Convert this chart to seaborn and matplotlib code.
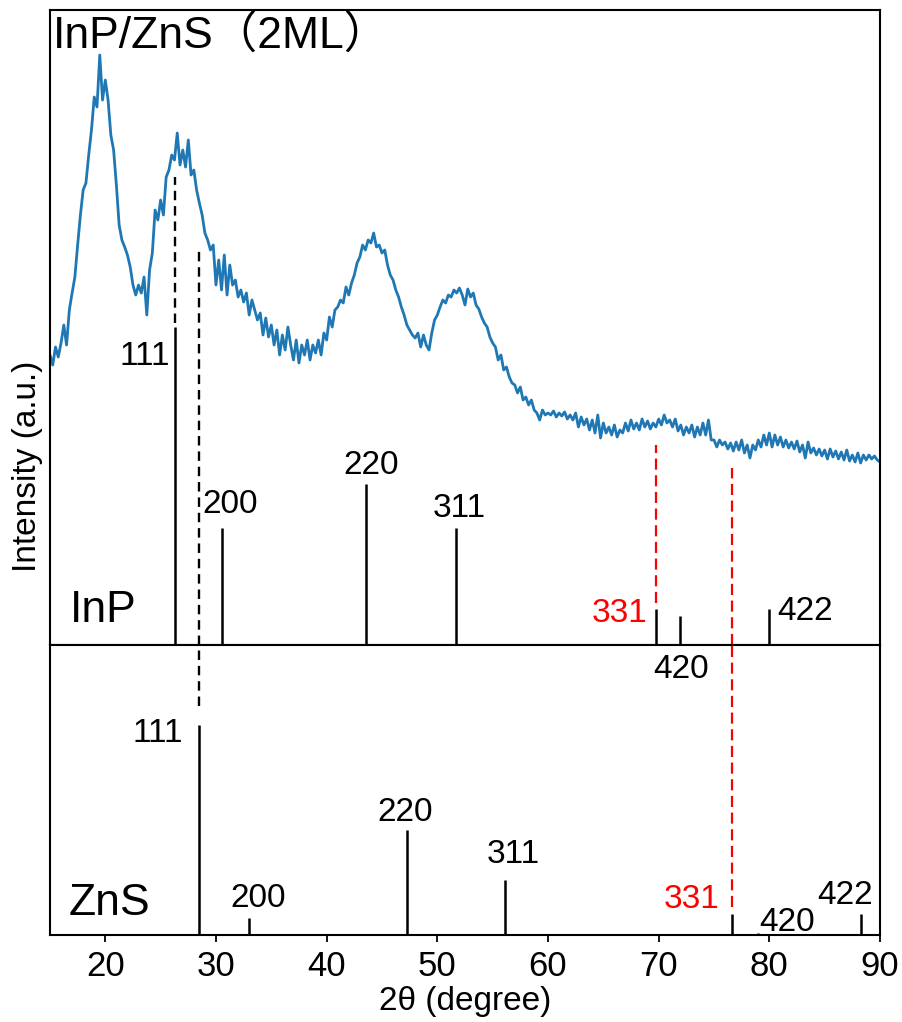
import numpy as np
import pandas as pd
import matplotlib
matplotlib.use("Agg")
import matplotlib.pyplot as plt
import seaborn as sns

# ---------------- data ----------------
# XRD pattern of InP/ZnS (2ML), 2theta from 15 to 90 deg, step 0.25 deg, intensity in a.u.
two_theta = np.linspace(15.0, 90.0, 301)
intensity = [
    290, 280, 298, 288,   302, 320, 300, 335,   352, 368, 400, 430,   455, 462, 490, 515,
    548, 538, 590, 545,   565, 545, 510, 495,   460, 420, 405, 398,   390, 378, 360, 350,
    360, 352, 368, 330,   375, 392, 435, 425,   445, 430, 468, 475,   490, 485, 512, 480,
    495, 478, 505, 470,   475, 455, 442, 430,   412, 405, 395, 400,   360, 385, 355, 390,
    350, 380, 360, 365,   348, 355, 343, 352,   330, 345, 335, 325,   332, 310, 327, 308,
    320, 300, 315, 290,   310, 295, 318, 300,   285, 305, 282, 300,   290, 305, 285, 300,
    292, 305, 290, 312,   305, 328, 318, 335,   338, 345, 342, 358,   350, 362, 370, 382,
    388, 400, 395, 405,   402, 412, 398, 400,   392, 395, 380, 370,   365, 355, 348, 338,
    330, 320, 315, 310,   307, 312, 298, 310,   300, 295, 312, 325,   330, 338, 345, 342,
    350, 348, 355, 352,   357, 350, 340, 356,   348, 352, 340, 336,   328, 322, 318, 308,
    302, 298, 285, 290,   275, 278, 268, 262,   260, 252, 258, 245,   248, 240, 245, 235,
    232, 225, 235, 230,   232, 230, 234, 228,   232, 229, 233, 226,   230, 225, 232, 218,
    228, 220, 226, 215,   225, 212, 230, 207,   222, 212, 218, 210,   220, 208, 215, 212,
    222, 214, 225, 216,   222, 215, 226, 218,   224, 216, 222, 218,   226, 220, 230, 222,
    225, 218, 226, 214,   220, 210, 218, 212,   220, 208, 218, 210,   222, 210, 225, 205,
    205, 198, 205, 200,   203, 196, 202, 194,   203, 195, 205, 192,   200, 187, 200, 195,
    205, 198, 210, 200,   212, 198, 210, 200,   208, 198, 205, 197,   203, 196, 204, 193,
    200, 187, 203, 192,   197, 190, 196, 189,   195, 186, 196, 188,   194, 186, 193, 185,
    195, 184, 190, 183,   192, 182, 190, 185,   190, 186, 189, 185,
    183,
]

# reference stick patterns
inp_hkl = ["111", "200", "220", "311", "331", "420", "422"]
inp_pos = [26.3, 30.5, 43.6, 51.7, 69.8, 71.9, 80.0]
inp_int = [318, 117, 161, 117, 36, 29, 36]

zns_hkl = ["111", "200", "220", "311", "331", "420", "422"]
zns_pos = [28.5, 33.0, 47.3, 56.1, 76.6, 79.0, 88.3]
zns_int = [210, 17, 105, 55, 21, 2, 21]

x_ticks = [20, 30, 40, 50, 60, 70, 80, 90]

df = pd.DataFrame({"two_theta": two_theta, "intensity": intensity})

# ---------------- style ----------------
sns.set_theme(style="ticks")
plt.rcParams["font.family"] = ["Liberation Sans", "Noto Sans CJK JP", "DejaVu Sans"]
plt.rcParams["axes.linewidth"] = 1.5
plt.rcParams["text.color"] = "black"
plt.rcParams["axes.labelcolor"] = "black"
plt.rcParams["xtick.color"] = "black"
plt.rcParams["ytick.color"] = "black"
plt.rcParams["axes.edgecolor"] = "black"

fig = plt.figure(figsize=(9.02, 10.22), dpi=100)
ax1 = fig.add_axes([0.0554, 0.3689, 0.9202, 0.6213])
ax2 = fig.add_axes([0.0554, 0.0851, 0.9202, 0.2838], sharex=ax1)

# ---------------- top panel ----------------
sns.lineplot(data=df, x="two_theta", y="intensity", ax=ax1,
             color="#1f77b4", linewidth=2.0)
ax1.vlines(inp_pos, 0, inp_int, colors="black", linewidth=1.8)

# guide lines
bdash = (0, (4, 2.5))
rdash = (0, (5, 2.5))
ax1.vlines(26.3, 322, 468, colors="black", linewidth=1.7, linestyles=bdash)
ax1.vlines(28.5, 0, 397, colors="black", linewidth=1.7, linestyles=bdash)
ax1.vlines(69.8, 42, 200, colors="red", linewidth=1.6, linestyles=rdash)
ax1.vlines(76.6, 0, 177, colors="red", linewidth=1.6, linestyles=rdash)

fs = 24
ax1.text(25.85, 288, inp_hkl[0], ha="right", va="center", fontsize=fs)
ax1.text(31.25, 140, inp_hkl[1], ha="center", va="center", fontsize=fs)
ax1.text(44.05, 179, inp_hkl[2], ha="center", va="center", fontsize=fs)
ax1.text(51.95, 136, inp_hkl[3], ha="center", va="center", fontsize=fs)
ax1.text(68.95, 31, inp_hkl[4], ha="right", va="center", fontsize=fs, color="red")
ax1.text(83.2, 33, inp_hkl[6], ha="center", va="center", fontsize=fs)
ax1.text(19.8, 34, "InP", ha="center", va="center", fontsize=32)
ax1.text(15.25, 609, "InP/ZnS（2ML）", ha="left", va="center", fontsize=32)

ax1.set_xlim(15, 90)
ax1.set_ylim(0, 635)
ax1.set_xlabel("")
ax1.set_ylabel("")
ax1.tick_params(bottom=False, labelbottom=False, left=False, labelleft=False)

# ---------------- bottom panel ----------------
ax2.vlines(zns_pos, 0, zns_int, colors="black", linewidth=1.8)
ax2.vlines(28.5, 229, 290, colors="black", linewidth=1.7, linestyles=bdash)
ax2.vlines(76.6, 28, 290, colors="red", linewidth=1.6, linestyles=rdash)

ax2.text(72.0, 265.5, inp_hkl[5], ha="center", va="center", fontsize=fs)
ax2.text(24.7, 201, zns_hkl[0], ha="center", va="center", fontsize=fs)
ax2.text(33.85, 37, zns_hkl[1], ha="center", va="center", fontsize=fs)
ax2.text(47.1, 123, zns_hkl[2], ha="center", va="center", fontsize=fs)
ax2.text(56.85, 81, zns_hkl[3], ha="center", va="center", fontsize=fs)
ax2.text(73.0, 36, zns_hkl[4], ha="center", va="center", fontsize=fs, color="red")
ax2.text(81.6, 13, zns_hkl[5], ha="center", va="center", fontsize=fs)
ax2.text(86.85, 40, zns_hkl[6], ha="center", va="center", fontsize=fs)
ax2.text(20.4, 32, "ZnS", ha="center", va="center", fontsize=32)

ax2.set_ylim(0, 290)
ax2.set_xticks(x_ticks)
ax2.tick_params(axis="x", labelsize=25, length=5, width=1.3, direction="out",
                color="black", labelcolor="black", pad=6)
ax2.tick_params(left=False, labelleft=False)
ax2.set_xlabel("2θ (degree)", fontsize=24, labelpad=2, color="black")
ax2.set_ylabel("")

for ax in (ax1, ax2):
    for s in ax.spines.values():
        s.set_color("black")
        s.set_linewidth(1.5)
        s.set_visible(True)

fig.text(28 / 902, 1 - 466 / 1022, "Intensity (a.u.)", rotation=90,
         ha="center", va="center", fontsize=24, color="black")

fig.savefig("out.png", dpi=100)
